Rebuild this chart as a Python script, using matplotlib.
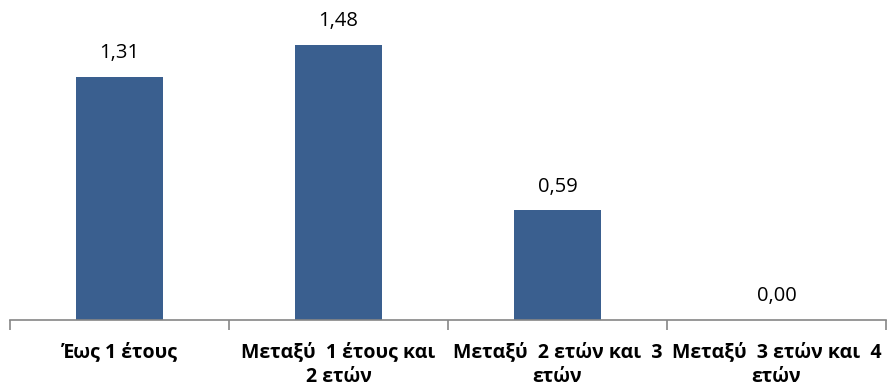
import matplotlib
matplotlib.use("Agg")
import matplotlib.pyplot as plt
from matplotlib.ticker import FixedLocator

categories = ["Έως 1 έτους", "Μεταξύ  1 έτους και\n2 ετών",
              "Μεταξύ  2 ετών και  3\nετών", "Μεταξύ  3 ετών και  4\nετών"]
values = [1.31, 1.48, 0.59, 0.00]
value_labels = ["1,31", "1,48", "0,59", "0,00"]

plt.rcParams['font.family'] = ['Open Sans', 'DejaVu Sans']

fig = plt.figure(figsize=(8.88, 3.92), dpi=100)
ax = fig.add_axes([10/888, 72/392, 876/888, 297/392])
x = list(range(len(values)))
bars = ax.bar(x, values, width=0.4, color="#3A5F8F", zorder=2)
for xi, v, lab in zip(x, values, value_labels):
    ax.annotate(lab, (xi, v), xytext=(0, 10), textcoords="offset points",
                ha="center", va="bottom", fontsize=14.5, color="black")

ax.set_xlim(-0.5, len(values) - 0.5)
ax.set_ylim(0, 1.6)
for s in ["top", "right", "left"]:
    ax.spines[s].set_visible(False)
ax.spines["bottom"].set_color("#868686")
ax.spines["bottom"].set_linewidth(1.2)
ax.set_yticks([])
ax.set_xticks(x)
ax.set_xticklabels(categories, fontsize=14, fontweight="bold", linespacing=1.3)
ax.tick_params(axis="x", which="major", length=0, pad=16)
ax.xaxis.set_minor_locator(FixedLocator([i - 0.5 for i in range(len(values) + 1)]))
ax.tick_params(axis="x", which="minor", length=7, color="#868686", width=1.2)

fig.savefig("out.png", dpi=100)
